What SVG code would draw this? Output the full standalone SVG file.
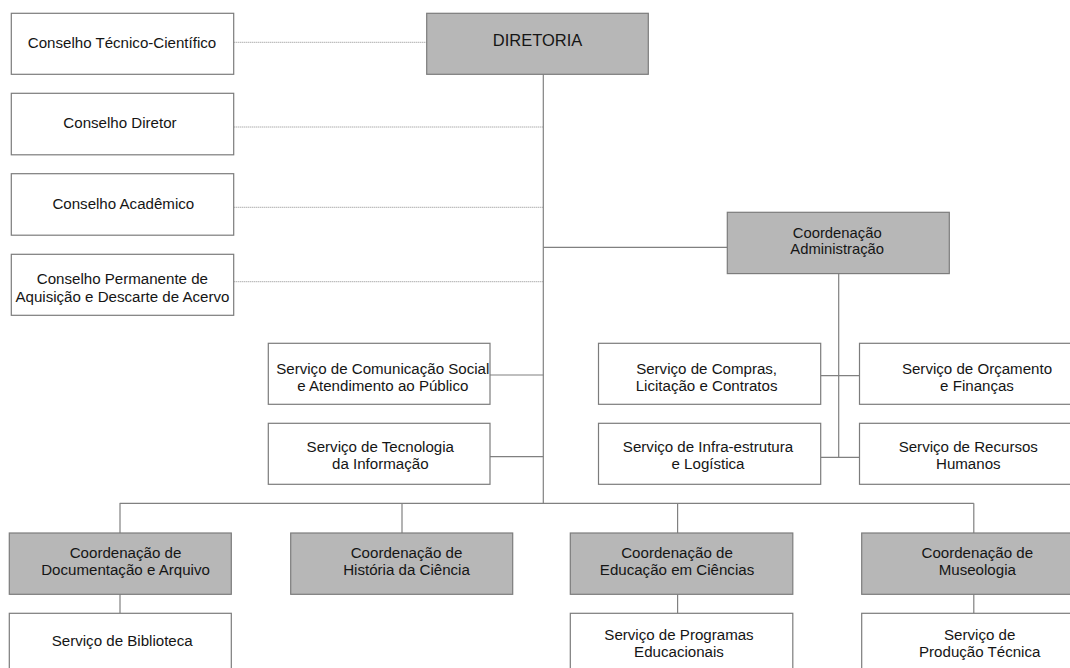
<svg xmlns="http://www.w3.org/2000/svg" width="1070" height="668" viewBox="0 0 1070 668">
<style>
.b{fill:#ffffff;stroke:#7c7c7c;stroke-width:1.2}
.g{fill:#b7b7b7;stroke:#7c7c7c;stroke-width:1.2}
.t{font-family:"Liberation Sans",Arial,sans-serif;font-size:15.1px;fill:#151515;text-anchor:middle}
.c{stroke:#808080;stroke-width:1.2;fill:none}
.d{stroke:#8a8a8a;stroke-width:1;stroke-dasharray:1 1;fill:none}
</style>
<rect width="1070" height="668" fill="#ffffff"/>
<g id="connectors">
<line class="d" x1="233.7" y1="42.3" x2="426.7" y2="42.3"/>
<line class="d" x1="233.7" y1="127" x2="543.3" y2="127"/>
<line class="d" x1="233.7" y1="207.3" x2="543.3" y2="207.3"/>
<line class="d" x1="233.7" y1="281.7" x2="543.3" y2="281.7"/>
<line class="c" x1="543.3" y1="74.3" x2="543.3" y2="503.3"/>
<line class="c" x1="543.3" y1="247.3" x2="727.3" y2="247.3"/>
<line class="c" x1="490" y1="375" x2="543.3" y2="375"/>
<line class="c" x1="490" y1="456.7" x2="543.3" y2="456.7"/>
<line class="c" x1="119.7" y1="503.3" x2="973.8" y2="503.3"/>
<line class="c" x1="120" y1="503.3" x2="120" y2="533"/>
<line class="c" x1="402" y1="503.3" x2="402" y2="533"/>
<line class="c" x1="677.6" y1="503.3" x2="677.6" y2="533"/>
<line class="c" x1="973.8" y1="503.3" x2="973.8" y2="533"/>
<line class="c" x1="120" y1="594.3" x2="120" y2="613.3"/>
<line class="c" x1="677.6" y1="594.3" x2="677.6" y2="613.3"/>
<line class="c" x1="973.8" y1="594.3" x2="973.8" y2="613.3"/>
<line class="c" x1="838.7" y1="273.6" x2="838.7" y2="457.3"/>
<line class="c" x1="820.7" y1="375.7" x2="859.5" y2="375.7"/>
<line class="c" x1="820.7" y1="457.3" x2="859.5" y2="457.3"/>
</g>
<g id="conselho-tecnico"><rect class="b" x="11.3" y="13.3" width="222.4" height="61"/><text class="t" x="122" y="48">Conselho Técnico-Científico</text></g>
<g id="diretoria"><rect class="g" x="426.7" y="13.3" width="221.6" height="61"/><text class="t" x="537.5" y="46" style="font-size:16.5px">DIRETORIA</text></g>
<g id="conselho-diretor"><rect class="b" x="11.3" y="93.3" width="222.4" height="61.5"/><text class="t" x="120" y="128">Conselho Diretor</text></g>
<g id="conselho-academico"><rect class="b" x="11.3" y="173.7" width="222.4" height="61.5"/><text class="t" x="123.3" y="208.5">Conselho Acadêmico</text></g>
<g id="conselho-permanente"><rect class="b" x="11.3" y="254.3" width="222.4" height="61"/><text class="t" x="122.4" y="284">Conselho Permanente de</text><text class="t" x="122.4" y="301.5">Aquisição e Descarte de Acervo</text></g>
<g id="coord-admin"><rect class="g" x="727.3" y="212.3" width="222" height="61.3"/><text class="t" x="837.2" y="237.5" style="font-size:14.8px">Coordenação</text><text class="t" x="837.2" y="253.5" style="font-size:14.8px">Administração</text></g>
<g id="serv-comunicacao"><rect class="b" x="268.3" y="343.3" width="221.7" height="61"/><text class="t" x="382.8" y="373.5">Serviço de Comunicação Social</text><text class="t" x="382.8" y="390.5">e Atendimento ao Público</text></g>
<g id="serv-tecnologia"><rect class="b" x="268.3" y="423.3" width="221.7" height="61"/><text class="t" x="380.3" y="452">Serviço de Tecnologia</text><text class="t" x="380.3" y="469">da Informação</text></g>
<g id="serv-compras"><rect class="b" x="598.5" y="343.3" width="222.2" height="61"/><text class="t" x="706.6" y="373.5">Serviço de Compras,</text><text class="t" x="706.6" y="390.5">Licitação e Contratos</text></g>
<g id="serv-orcamento"><rect class="b" x="859.5" y="343.3" width="222" height="61"/><text class="t" x="977" y="373.5">Serviço de Orçamento</text><text class="t" x="977" y="390.5">e Finanças</text></g>
<g id="serv-infra"><rect class="b" x="598.5" y="423.3" width="222.2" height="61"/><text class="t" x="708" y="452">Serviço de Infra-estrutura</text><text class="t" x="708" y="469">e Logística</text></g>
<g id="serv-rh"><rect class="b" x="859.5" y="423.3" width="222" height="61"/><text class="t" x="968.3" y="452">Serviço de Recursos</text><text class="t" x="968.3" y="469">Humanos</text></g>
<g id="coord-documentacao"><rect class="g" x="9.3" y="533" width="222" height="61.3"/><text class="t" x="125.5" y="558">Coordenação de</text><text class="t" x="125.5" y="575">Documentação e Arquivo</text></g>
<g id="coord-historia"><rect class="g" x="290.7" y="533" width="222" height="61.3"/><text class="t" x="406.5" y="558">Coordenação de</text><text class="t" x="406.5" y="575">História da Ciência</text></g>
<g id="coord-educacao"><rect class="g" x="570.3" y="533" width="222.5" height="61.3"/><text class="t" x="677" y="558">Coordenação de</text><text class="t" x="677" y="575">Educação em Ciências</text></g>
<g id="coord-museologia"><rect class="g" x="861.7" y="533" width="222" height="61.3"/><text class="t" x="977.3" y="558">Coordenação de</text><text class="t" x="977.3" y="575">Museologia</text></g>
<g id="serv-biblioteca"><rect class="b" x="9.3" y="613.3" width="222" height="61"/><text class="t" x="122.2" y="646">Serviço de Biblioteca</text></g>
<g id="serv-programas"><rect class="b" x="570.3" y="613.3" width="222.5" height="61"/><text class="t" x="679" y="640">Serviço de Programas</text><text class="t" x="679" y="657">Educacionais</text></g>
<g id="serv-producao"><rect class="b" x="861.7" y="613.3" width="222" height="61"/><text class="t" x="979.7" y="640">Serviço de</text><text class="t" x="979.7" y="657">Produção Técnica</text></g>
</svg>
